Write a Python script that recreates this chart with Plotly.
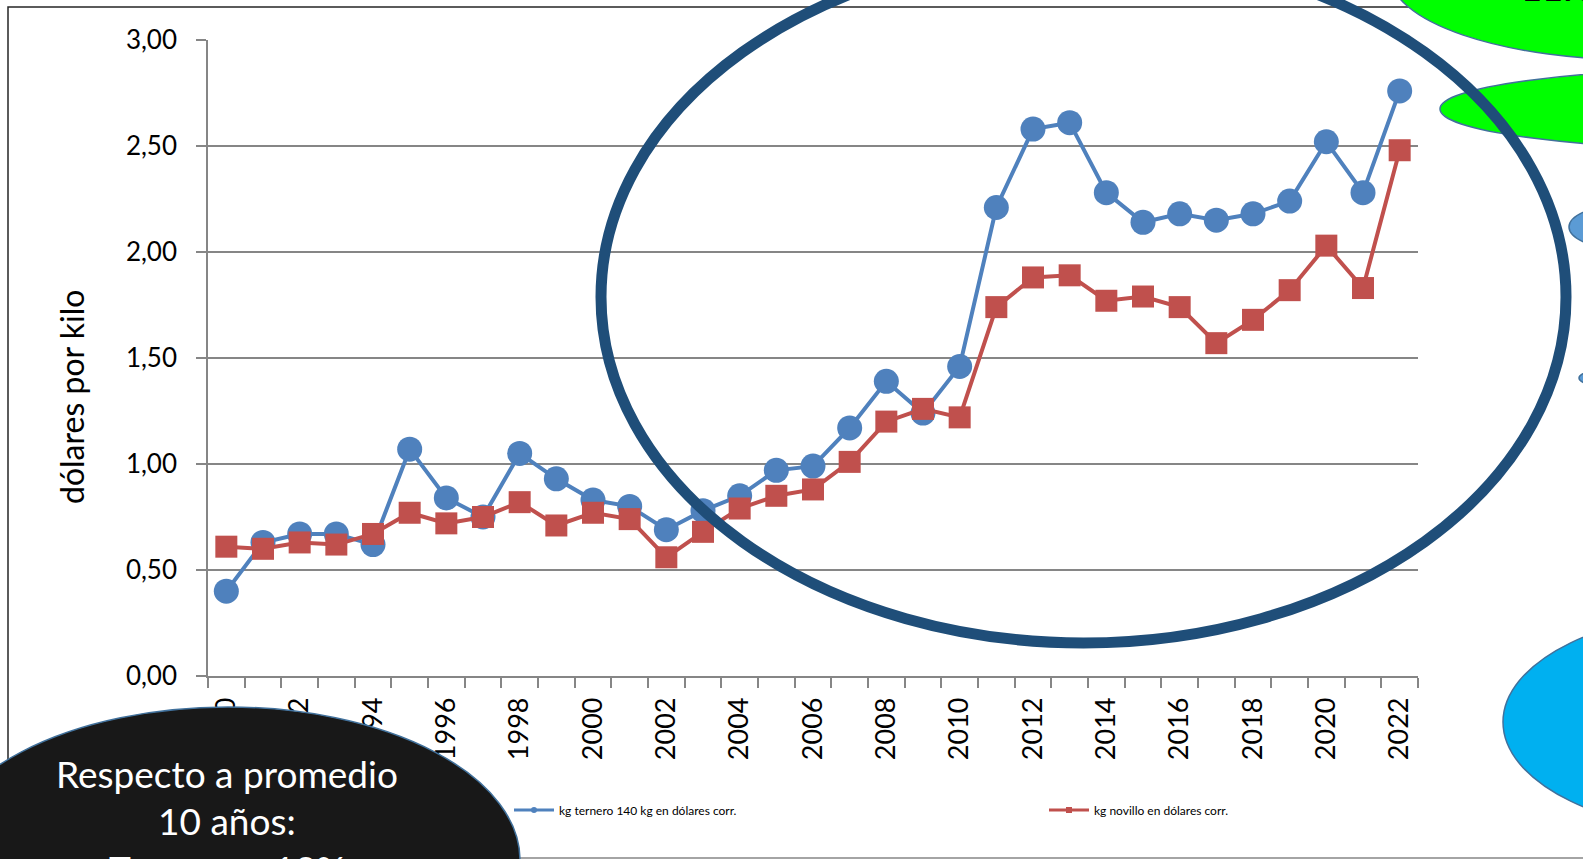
import plotly.graph_objects as go

# ---------------- data ----------------
years = list(range(1990, 2023))
ternero = [0.40, 0.63, 0.67, 0.67, 0.62, 1.07, 0.84, 0.75, 1.05, 0.93,
           0.83, 0.80, 0.69, 0.78, 0.85, 0.97, 0.99, 1.17, 1.39, 1.24,
           1.46, 2.21, 2.58, 2.61, 2.28, 2.14, 2.18, 2.15, 2.18, 2.24,
           2.52, 2.28, 2.76]
novillo = [0.61, 0.60, 0.63, 0.62, 0.67, 0.77, 0.72, 0.75, 0.82, 0.71,
           0.77, 0.74, 0.56, 0.68, 0.79, 0.85, 0.88, 1.01, 1.20, 1.26,
           1.22, 1.74, 1.88, 1.89, 1.77, 1.79, 1.74, 1.57, 1.68, 1.82,
           2.03, 1.83, 2.48]
name_ternero = "kg ternero 140 kg en dólares corr."
name_novillo = "kg novillo en dólares corr."
y_title = "dólares por kilo"
note_lines = ["Respecto a promedio", "10 años:", "Ternero: +13%"]

# ---------------- layout geometry (pixels) ----------------
W, H = 1583, 859
L, R, T, B = 208, 1418, 40, 676   # plot area edges


def px(xp):
    return (xp - L) / (R - L)


def py(yp):
    return (B - yp) / (B - T)


BLUE = "#4F81BD"
RED = "#C0504D"
GRID = "#868686"
FONT = "Lato"

fig = go.Figure()
fig.add_trace(go.Scatter(x=years, y=ternero, mode="lines+markers", showlegend=False,
                         line=dict(color=BLUE, width=4),
                         marker=dict(symbol="circle", size=25, color=BLUE)))
fig.add_trace(go.Scatter(x=years, y=novillo, mode="lines+markers", showlegend=False,
                         line=dict(color=RED, width=4),
                         marker=dict(symbol="square", size=22, color=RED)))
# legend entries (small symbols as in the reference), one legend box each
fig.add_trace(go.Scatter(x=[None], y=[None], mode="lines+markers", name=name_ternero,
                         legend="legend",
                         line=dict(color=BLUE, width=3), marker=dict(symbol="circle", size=6, color=BLUE)))
fig.add_trace(go.Scatter(x=[None], y=[None], mode="lines+markers", name=name_novillo,
                         legend="legend2",
                         line=dict(color=RED, width=3), marker=dict(symbol="square", size=6, color=RED)))

boundaries = [y - 0.5 for y in years] + [years[-1] + 0.5]

fig.update_xaxes(range=[years[0] - 0.5, years[-1] + 0.5],
                 tickvals=years[::2], ticktext=[str(y) for y in years[::2]],
                 tickangle=-90, ticks="", ticklabelstandoff=9,
                 tickfont=dict(family=FONT, size=27, color="#000000"),
                 showgrid=False, zeroline=False,
                 showline=True, linecolor=GRID, linewidth=1.5,
                 minor=dict(tickvals=boundaries, ticks="outside", ticklen=10,
                            tickcolor=GRID, tickwidth=1.5, showgrid=False))
fig.update_yaxes(range=[0, 3], dtick=0.5, tick0=0, tickformat=".2f",
                 ticks="outside", ticklen=10, tickcolor=GRID, tickwidth=1.5,
                 ticklabelstandoff=14,
                 tickfont=dict(family=FONT, size=26, color="#000000"),
                 showgrid=True, gridcolor=GRID, gridwidth=1.5, zeroline=False,
                 showline=True, linecolor=GRID, linewidth=1.5)

shapes = []
# chart frame
shapes.append(dict(type="path", xref="paper", yref="paper",
                   path=f"M {px(8)} {py(858)} L {px(8)} {py(7)} L {px(1700)} {py(7)}",
                   line=dict(color="#262626", width=1.5), layer="below"))
shapes.append(dict(type="line", xref="paper", yref="paper",
                   x0=px(8), x1=px(1700), y0=py(858), y1=py(858),
                   line=dict(color=GRID, width=1.5), layer="below"))


def ell(x0, x1, y0, y1, fill, line_color="#41719C", lw=1.5):
    return dict(type="circle", xref="paper", yref="paper", layer="above",
                x0=px(x0), x1=px(x1), y0=py(y1), y1=py(y0),
                fillcolor=fill, line=dict(color=line_color, width=lw))


shapes.append(ell(1390, 1890, -110, 60, "#00FF00"))
shapes.append(ell(1440, 2070, 68, 150, "#00FF00"))
shapes.append(ell(1569, 1730, 201, 253, "#5B9BD5"))
shapes.append(ell(1579, 1700, 366, 390, "#5B9BD5"))
shapes.append(ell(1503, 1965, 610, 834, "#00B0F0"))
shapes.append(ell(601, 1566, -49, 643, "rgba(0,0,0,0)", "#1F4E79", 11))
shapes.append(ell(-64, 520, 707, 1013, "#181818"))

annotations = []
# y axis title
annotations.append(dict(text=y_title, xref="paper", yref="paper", x=px(71), y=py(397),
                        xanchor="center", yanchor="middle", textangle=-90, showarrow=False,
                        font=dict(family=FONT, size=32, color="#000000")))
for txt, yc in zip(note_lines, [773, 821, 868]):
    annotations.append(dict(text=txt, xref="paper", yref="paper", x=px(227), y=py(yc),
                            xanchor="center", yanchor="middle", showarrow=False,
                            font=dict(family=FONT, size=37, color="#FFFFFF")))
annotations.append(dict(text="<b>11%</b>", xref="paper", yref="paper", x=px(1519), y=py(-13),
                        xanchor="left", yanchor="middle", showarrow=False,
                        font=dict(family=FONT, size=36, color="#000000")))

leg_common = dict(orientation="h", xanchor="left", yanchor="middle",
                  font=dict(family=FONT, size=12, color="#000000"),
                  bgcolor="rgba(0,0,0,0)", itemwidth=40)

fig.update_layout(
    width=W, height=H,
    margin=dict(l=L, r=W - R, t=T, b=H - B, pad=0),
    paper_bgcolor="#FFFFFF", plot_bgcolor="#FFFFFF",
    separators=",.",
    font=dict(family=FONT, color="#000000"),
    shapes=shapes, annotations=annotations,
    legend=dict(x=px(509), y=py(810), **leg_common),
    legend2=dict(x=px(1044), y=py(810), **leg_common),
)

post = (
    "document.documentElement.style.margin='0';"
    "document.body.style.margin='0';"
    "document.documentElement.style.overflow='hidden';"
    "document.body.style.overflow='hidden';"
)
fig.write_html("out.html",
               config={"displayModeBar": False},
               post_script=post)
